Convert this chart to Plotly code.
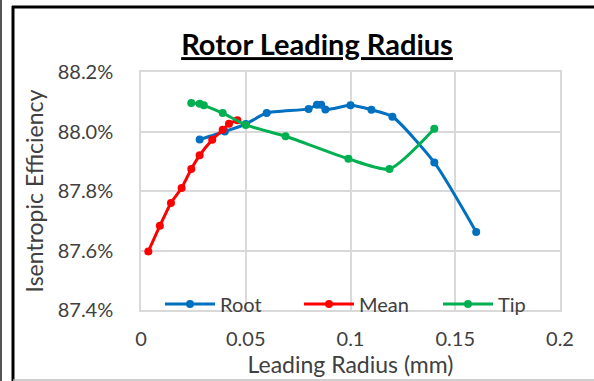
import plotly.graph_objects as go

# Leading radius (mm) and isentropic efficiency (%) for each blade section
root_x = [0.028, 0.040, 0.050, 0.060, 0.080, 0.084, 0.086, 0.088, 0.100, 0.110, 0.120, 0.140, 0.160]
root_y = [87.973, 88.000, 88.025, 88.062, 88.076, 88.090, 88.090, 88.074, 88.088, 88.073, 88.050, 87.896, 87.662]

mean_x = [0.0035, 0.009, 0.0143, 0.0194, 0.024, 0.028, 0.034, 0.039, 0.042, 0.046]
mean_y = [87.597, 87.683, 87.760, 87.810, 87.874, 87.920, 87.972, 88.006, 88.026, 88.038]

tip_x = [0.024, 0.028, 0.030, 0.039, 0.050, 0.069, 0.099, 0.1186, 0.140]
tip_y = [88.096, 88.093, 88.088, 88.062, 88.022, 87.984, 87.908, 87.874, 88.009]

x_ticks = [0, 0.05, 0.1, 0.15, 0.2]
x_labels = ["0", "0.05", "0.1", "0.15", "0.2"]
y_ticks = [87.4, 87.6, 87.8, 88.0, 88.2]
y_labels = ["87.4%", "87.6%", "87.8%", "88.0%", "88.2%"]

FONT = "Lato, 'Open Sans', sans-serif"
TXT = "#404040"
GRID = "#D9D9D9"

W, H = 594, 381
L, R, T, B = 141, 34, 72, 71
PW, PH = W - L - R, H - T - B


def px(x):
    return (x - L) / PW


def py(y):
    return (H - B - y) / PH


fig = go.Figure()
for name, xs, ys, col in [
    ("Root", root_x, root_y, "#0070C0"),
    ("Mean", mean_x, mean_y, "#FF0000"),
    ("Tip", tip_x, tip_y, "#00B050"),
]:
    fig.add_trace(go.Scatter(
        x=xs, y=ys, name=name, mode="lines+markers",
        line=dict(color=col, width=3, shape="spline", smoothing=0.6),
        marker=dict(color=col, size=8),
    ))

fig.update_layout(
    width=W, height=H,
    margin=dict(l=L, r=R, t=T, b=B),
    paper_bgcolor="white", plot_bgcolor="white",
    font=dict(family=FONT, color=TXT),
    title=dict(text="<b><u>Rotor Leading Radius</u></b>", x=317 / W, xanchor="center",
               y=1 - 45 / H, yanchor="middle", font=dict(size=29, color="black", family=FONT)),
    legend=dict(orientation="h", x=px(160), xanchor="left", y=py(304), yanchor="middle",
                bgcolor="rgba(0,0,0,0)", font=dict(size=20, color=TXT), itemwidth=50,
                entrywidth=74, entrywidthmode="pixels", tracegroupgap=0),
    showlegend=True,
)

fig.update_xaxes(
    range=[0, 0.2], tickvals=x_ticks, ticktext=x_labels,
    showgrid=True, gridcolor=GRID, gridwidth=1.5, zeroline=False,
    showline=True, linecolor=GRID, linewidth=1.5, mirror=True,
    tickfont=dict(size=20, color=TXT), ticks="", ticklabelstandoff=10,
    title=dict(text="Leading Radius (mm)", font=dict(size=23, color=TXT), standoff=0),
)
fig.update_yaxes(
    range=[87.4, 88.2], tickvals=y_ticks, ticktext=y_labels,
    showgrid=True, gridcolor=GRID, gridwidth=1.5, zeroline=False,
    showline=True, linecolor=GRID, linewidth=1.5, mirror=True,
    tickfont=dict(size=20, color=TXT), ticks="", ticklabelstandoff=22,
    title=dict(text="Isentropic Efficiency", font=dict(size=23, color=TXT), standoff=8),
)

# Chart frame
fig.add_shape(type="line", xref="paper", yref="paper",
              x0=px(13), x1=px(13), y0=py(6), y1=py(H), line=dict(color="black", width=3))
fig.add_shape(type="line", xref="paper", yref="paper",
              x0=px(12), x1=px(W + 5), y0=py(7), y1=py(7), line=dict(color="black", width=3))
fig.add_shape(type="line", xref="paper", yref="paper",
              x0=px(1), x1=px(1), y0=py(0), y1=py(H), line=dict(color="#555555", width=2))
fig.add_shape(type="line", xref="paper", yref="paper",
              x0=px(13), x1=px(W + 5), y0=py(380), y1=py(380), line=dict(color="#BFBFBF", width=1.5))

fig.write_html("out.html")
